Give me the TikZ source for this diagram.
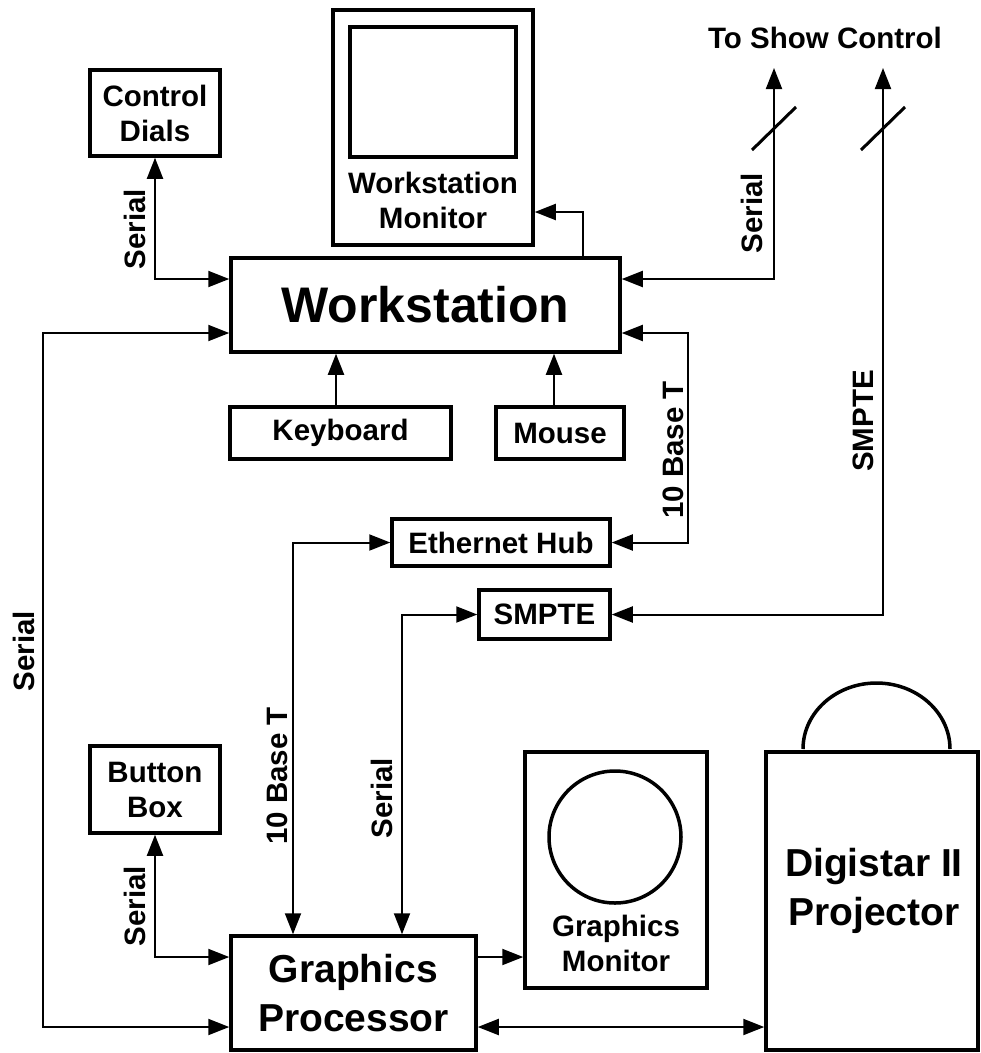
\documentclass[tikz,border=0pt]{standalone}
\usepackage{fontspec}
\setmainfont{Liberation Sans}
\usetikzlibrary{arrows.meta}
\newcommand\dgfont{\bfseries\fontsize{29.5}{35}\selectfont}
\newcommand\dgbig{\bfseries\fontsize{39}{49}\selectfont}
\newcommand\dghuge{\bfseries\fontsize{50}{60}\selectfont}
\begin{document}
\begin{tikzpicture}[x=1pt,y=-1pt,
  >={Triangle[length=21pt,width=16pt]},
  box/.style={draw, line width=3.5pt, inner sep=0pt, align=center, font=\dgfont},
  deco/.style={line width=3.5pt},
  conn/.style={line width=2pt},
  slash/.style={line width=3pt},
  lab/.style={font=\dgfont, rotate=90, inner sep=0pt},
  txt/.style={font=\dgfont, align=center, inner sep=0pt}]
\useasboundingbox (0,0) rectangle (981,1053);

% boxes
\node[box, minimum width=130pt, minimum height=86pt] (dials) at (155,113) {Control\\Dials};
\node[box, minimum width=200pt, minimum height=235pt] (wsmon) at (433,127.5) {};
\draw[deco] (350,27) rectangle (516,157);
\node[txt] (wsmontxt) at (433,200) {Workstation\\Monitor};
\node[box, minimum width=389pt, minimum height=94pt, font=\dghuge] (ws) at (425.5,305) {Workstation};
\node[box, minimum width=221pt, minimum height=52pt] (kbd) at (340.5,433) {Keyboard};
\node[box, minimum width=128pt, minimum height=52pt] (mouse) at (560,433) {Mouse};
\node[box, minimum width=218pt, minimum height=47pt] (hub) at (501,542.5) {Ethernet Hub};
\node[box, minimum width=131pt, minimum height=49pt] (smpte) at (544.5,614.5) {SMPTE};
\node[box, minimum width=130pt, minimum height=87pt] (button) at (155,789.5) {Button\\Box};
\node[box, minimum width=245pt, minimum height=114pt, font=\dgbig] (gp) at (353.5,993) {Graphics\\Processor};
\node[box, minimum width=182pt, minimum height=236pt] (gm) at (616,870) {};
\draw[deco] (615,837) circle[radius=66pt];
\node[txt] (gmtxt) at (616,943) {Graphics\\Monitor};
\node[box, minimum width=212pt, minimum height=298pt] (proj) at (872,901) {};
\draw[deco] (803,749) arc[start angle=180, end angle=0, x radius=73.5pt, y radius=66pt];
\node[txt, font=\dgbig, align=center] (projtxt) at (874,891) {\fontsize{39}{50}\selectfont Digistar II\\Projector};
\node[txt] (show) at (825,38) {To Show Control};

% waypoints
\coordinate (c1) at (155,279);
\coordinate (l1) at (43,333);
\coordinate (l2) at (43,1027);
\coordinate (m1) at (583,212);
\coordinate (s1top) at (774,68);
\coordinate (s1) at (774,279);
\coordinate (s2top) at (883,68);
\coordinate (s2) at (883,614.5);
\coordinate (e1) at (688,333);
\coordinate (h1) at (293,542.5);
\coordinate (p1) at (402,614.5);
\coordinate (b1) at (155,957);
\coordinate (k1) at (336,400);
\coordinate (u1) at (554,400);

% connectors
\draw[conn,<->] (dials.south) -- (c1) -- (ws.west |- c1);
\draw[conn,<->] (ws.west |- l1) -- (l1) -- (l2) -- (gp.west |- l2);
\draw[conn,->] (ws.north -| m1) -- (m1) -- (wsmon.east |- m1);
\draw[conn,<->] (s1top) -- (s1) -- (ws.east |- s1);
\draw[conn,<->] (s2top) -- (s2) -- (smpte.east);
\draw[conn,<->] (ws.east |- e1) -- (e1) -- (e1 |- hub.east) -- (hub.east);
\draw[conn,->] (kbd.north -| k1) -- (ws.south -| k1);
\draw[conn,->] (mouse.north -| u1) -- (ws.south -| u1);
\draw[conn,<->] (hub.west) -- (h1) -- (h1 |- gp.north);
\draw[conn,<->] (smpte.west) -- (p1) -- (p1 |- gp.north);
\draw[conn,<->] (button.south) -- (b1) -- (gp.west |- b1);
\draw[conn,->] (gp.east |- b1) -- (gm.west |- b1);
\draw[conn,<->] (gp.east |- l2) -- (proj.west |- l2);

% slashes
\draw[slash] (752,150) -- (796,107);
\draw[slash] (861,150) -- (905,107);

% labels
\node[lab] (lb1) at (135,229) {Serial};
\node[lab] (lb2) at (23.5,651) {Serial};
\node[lab] (lb3) at (752,213) {Serial};
\node[lab] (lb4) at (863,421) {SMPTE};
\node[lab] (lb5) at (673,450) {10 Base T};
\node[lab] (lb6) at (277,776) {10 Base T};
\node[lab] (lb7) at (382,798) {Serial};
\node[lab] (lb8) at (135,906) {Serial};
\end{tikzpicture}
\end{document}
